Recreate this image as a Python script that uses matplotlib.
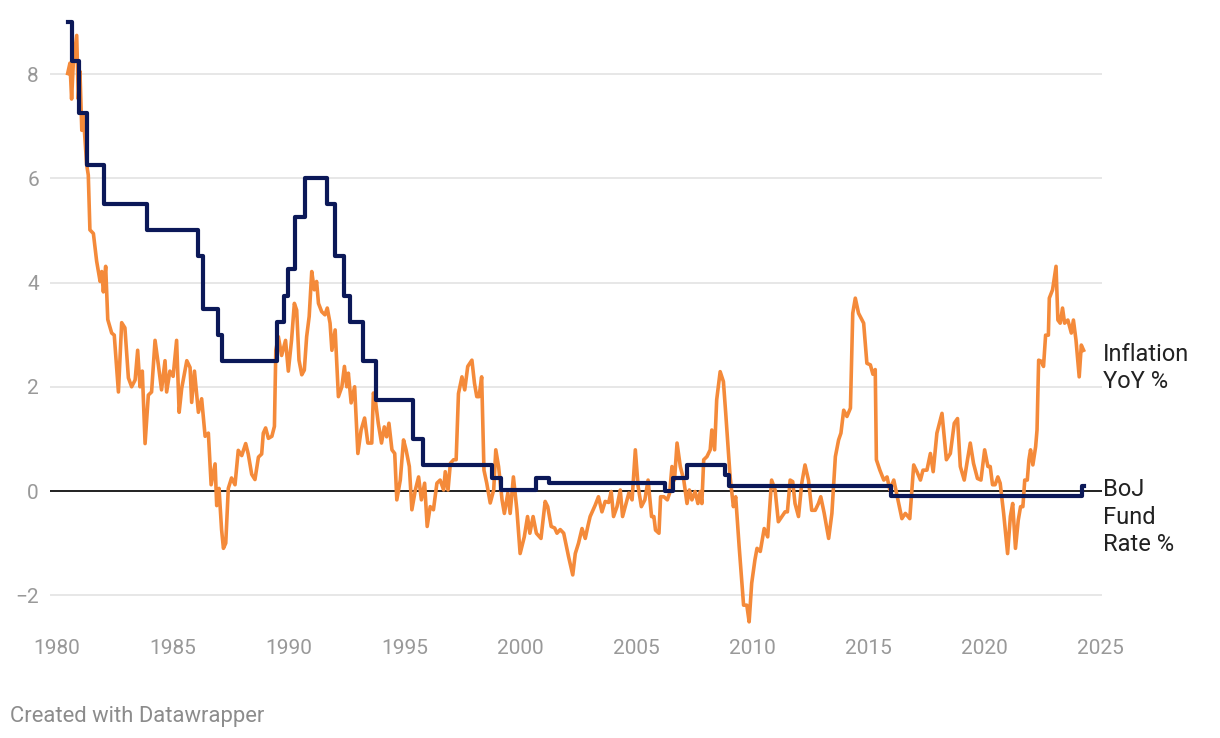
import matplotlib.pyplot as plt

# Japan CPI inflation, year-on-year %
infl_year = [
    1980.46, 1980.56, 1980.63, 1980.70, 1980.85, 1980.92, 1980.99, 1981.07, 1981.14, 1981.28,
    1981.35, 1981.42, 1981.57, 1981.71, 1981.86, 1981.93, 1982.00, 1982.10, 1982.19, 1982.36,
    1982.47, 1982.65, 1982.79, 1982.93, 1983.08, 1983.22, 1983.37, 1983.48, 1983.58, 1983.68,
    1983.80, 1983.94, 1984.08, 1984.23, 1984.37, 1984.51, 1984.66, 1984.73, 1984.87, 1985.01,
    1985.16, 1985.27, 1985.38, 1985.60, 1985.74, 1985.81, 1985.93, 1986.10, 1986.24, 1986.39,
    1986.53, 1986.65, 1986.82, 1986.89, 1986.99, 1987.10, 1987.18, 1987.28, 1987.39, 1987.53,
    1987.68, 1987.82, 1987.97, 1988.14, 1988.25, 1988.40, 1988.54, 1988.69, 1988.83, 1988.90,
    1989.00, 1989.12, 1989.27, 1989.38, 1989.44, 1989.55, 1989.69, 1989.86, 1989.98,
    1990.12, 1990.24, 1990.34, 1990.44, 1990.56, 1990.67, 1990.77, 1990.88, 1990.99, 1991.10,
    1991.20, 1991.28, 1991.42, 1991.56, 1991.66, 1991.78, 1991.86, 1992.00, 1992.14, 1992.29,
    1992.40, 1992.50, 1992.57, 1992.69, 1992.84, 1992.98, 1993.12, 1993.27, 1993.41, 1993.58,
    1993.65, 1993.75, 1993.86, 1994.00, 1994.12, 1994.22, 1994.32, 1994.45, 1994.57, 1994.66,
    1994.81, 1994.95, 1995.06, 1995.20, 1995.31, 1995.46, 1995.60, 1995.72, 1995.86, 1995.97,
    1996.10, 1996.24, 1996.39, 1996.53, 1996.68, 1996.75, 1996.87, 1996.97, 1997.11, 1997.22,
    1997.32, 1997.47, 1997.59, 1997.72, 1997.90, 1998.01, 1998.11, 1998.21, 1998.32, 1998.42,
    1998.54, 1998.69, 1998.84, 1998.93, 1999.05, 1999.20, 1999.30, 1999.45, 1999.55, 1999.69,
    1999.84, 1999.98,
    2000.16, 2000.30, 2000.40, 2000.54, 2000.68, 2000.88, 2001.06, 2001.17, 2001.32, 2001.47,
    2001.57, 2001.71, 2001.86, 2002.07, 2002.25, 2002.36, 2002.50, 2002.65, 2002.79, 2002.90,
    2003.00, 2003.22, 2003.36, 2003.51, 2003.65, 2003.80, 2003.91, 2004.01, 2004.16, 2004.30,
    2004.40, 2004.55, 2004.67, 2004.81, 2004.95, 2005.07, 2005.21, 2005.36, 2005.50, 2005.65,
    2005.75, 2005.82, 2005.97, 2006.04, 2006.18, 2006.33, 2006.43, 2006.53, 2006.64, 2006.75,
    2006.89, 2007.04, 2007.18, 2007.28, 2007.39, 2007.53, 2007.65, 2007.75, 2007.82, 2007.90,
    2008.04, 2008.18, 2008.25, 2008.37, 2008.46, 2008.61, 2008.75, 2008.85, 2009.04, 2009.18,
    2009.28, 2009.43, 2009.62, 2009.76, 2009.86, 2009.97, 2010.11,
    2010.20, 2010.34, 2010.51, 2010.66, 2010.83, 2010.98, 2011.12, 2011.27, 2011.41, 2011.51,
    2011.63, 2011.74, 2011.84, 2011.99, 2012.13, 2012.27, 2012.42, 2012.56, 2012.71, 2012.85,
    2012.95, 2013.10, 2013.29, 2013.43, 2013.58, 2013.72, 2013.82, 2013.94, 2014.08, 2014.23,
    2014.33, 2014.44, 2014.58, 2014.80, 2014.94, 2015.09, 2015.20, 2015.30, 2015.35, 2015.50,
    2015.67, 2015.81, 2015.93, 2016.10, 2016.25, 2016.45, 2016.60, 2016.79, 2016.96, 2017.10,
    2017.25, 2017.36, 2017.53, 2017.68, 2017.80, 2017.96, 2018.18, 2018.37, 2018.54, 2018.71,
    2018.85, 2018.97, 2019.14, 2019.28, 2019.40, 2019.54, 2019.71, 2019.86,
    2020.02, 2020.16, 2020.26, 2020.36, 2020.47, 2020.59, 2020.69, 2020.84, 2021.01, 2021.13,
    2021.23, 2021.35, 2021.47, 2021.57, 2021.67, 2021.75, 2021.86, 2021.93, 2022.00, 2022.10,
    2022.22, 2022.28, 2022.35, 2022.46, 2022.56, 2022.65, 2022.77, 2022.81, 2022.95, 2023.10,
    2023.18, 2023.28, 2023.38, 2023.47, 2023.61, 2023.76, 2023.85, 2023.96, 2024.10, 2024.19,
    2024.29,
]
infl_val = [
    8.01, 8.21, 7.52, 8.18, 8.74, 7.52, 8.05, 6.92, 7.19, 6.26,
    6.06, 5.01, 4.94, 4.41, 4.02, 4.21, 3.82, 4.31, 3.29, 3.03,
    2.99, 1.90, 3.23, 3.13, 2.17, 2.00, 2.13, 2.70, 2.00, 2.30,
    0.91, 1.84, 1.90, 2.89, 2.43, 1.94, 2.50, 1.90, 2.30, 2.20,
    2.89, 1.51, 1.97, 2.50, 2.37, 1.70, 2.30, 1.51, 1.77, 1.05,
    1.11, 0.12, 0.52, -0.28, 0.05, -0.74, -1.10, -1.00, 0.05, 0.25,
    0.12, 0.78, 0.68, 0.91, 0.71, 0.32, 0.22, 0.65, 0.71, 1.11,
    1.21, 1.01, 1.05, 1.24, 2.70, 2.96, 2.60, 2.89, 2.30,
    2.90, 3.60, 3.47, 2.51, 2.23, 2.32, 2.96, 3.35, 4.21, 3.86,
    4.02, 3.60, 3.44, 3.38, 3.51, 3.22, 2.70, 3.09, 1.81, 2.00,
    2.39, 2.00, 2.26, 1.69, 2.00, 0.72, 1.17, 1.40, 0.92, 0.92,
    1.88, 1.69, 1.30, 0.92, 1.23, 1.04, 1.30, 0.79, 0.72, -0.17,
    0.21, 0.98, 0.79, 0.47, -0.36, 0.02, 0.27, -0.17, 0.15, -0.68,
    -0.30, -0.36, 0.15, 0.21, 0.02, 0.37, 0.02, 0.53, 0.60, 0.60,
    1.87, 2.19, 1.94, 2.39, 2.51, 2.07, 1.81, 1.81, 2.19, 0.40,
    0.15, -0.23, 0.02, 0.79, 0.47, -0.17, -0.43, -0.04, -0.43, 0.27,
    -0.36, -1.20,
    -0.88, -0.49, -0.81, -0.49, -0.81, -0.91, -0.20, -0.30, -0.68, -0.71,
    -0.81, -0.74, -0.81, -1.26, -1.61, -1.20, -1.00, -0.72, -0.91, -0.68,
    -0.49, -0.27, -0.11, -0.40, -0.20, -0.22, -0.01, -0.49, -0.30, 0.02,
    -0.49, -0.24, -0.04, -0.17, 0.79, 0.09, -0.30, -0.17, 0.21, -0.49,
    -0.49, -0.75, -0.81, -0.11, -0.11, -0.17, -0.04, 0.47, 0.21, 0.92,
    0.47, 0.21, -0.24, 0.02, -0.17, -0.01, -0.24, -0.01, -0.24, 0.60,
    0.66, 0.79, 1.17, 0.79, 1.75, 2.29, 2.10, 1.49, 0.27, -0.30,
    -0.11, -1.07, -2.19, -2.19, -2.51, -1.77, -1.32,
    -1.10, -1.16, -0.72, -0.88, 0.21, 0.02, -0.59, -0.49, -0.40, -0.40,
    0.21, 0.18, -0.24, -0.49, 0.15, 0.50, 0.21, -0.37, -0.37, -0.24,
    -0.11, -0.43, -0.91, -0.43, 0.66, 0.98, 1.11, 1.55, 1.43, 1.59,
    3.41, 3.70, 3.41, 3.22, 2.45, 2.42, 2.24, 2.33, 0.60, 0.40,
    0.21, 0.27, 0.02, 0.21, -0.11, -0.53, -0.43, -0.53, 0.50, 0.37,
    0.21, 0.40, 0.40, 0.72, 0.37, 1.11, 1.49, 0.60, 0.72, 1.30,
    1.39, 0.47, 0.21, 0.60, 0.92, 0.53, 0.24, 0.21,
    0.79, 0.47, 0.47, 0.12, 0.12, 0.27, 0.15, -0.43, -1.20, -0.49,
    -0.24, -1.10, -0.56, -0.30, -0.30, 0.21, 0.21, 0.60, 0.79, 0.50,
    0.85, 1.17, 2.51, 2.49, 2.39, 2.99, 2.99, 3.70, 3.86, 4.31,
    3.28, 3.22, 3.51, 3.22, 3.28, 3.03, 3.28, 2.90, 2.19, 2.80,
    2.70,
]

# BoJ policy rate: year each level starts, and the level
rate_year = [1980.46, 1980.66, 1980.97, 1981.30, 1982.04, 1983.87, 1986.10, 1986.30, 1986.93,
             1987.10, 1989.48, 1989.81, 1989.96, 1990.27, 1990.72, 1991.63, 1992.00, 1992.40,
             1992.62, 1993.22, 1993.77, 1995.36, 1995.77, 1998.77, 1999.16, 2000.67, 2001.22,
             2006.21, 2006.56, 2007.16, 2008.82, 2009.00, 2016.00, 2024.22, 2024.29]
rate_val = [9.0, 8.25, 7.25, 6.25, 5.5, 5.0, 4.5, 3.5, 3.0,
            2.5, 3.25, 3.75, 4.25, 5.25, 6.0, 5.5, 4.5, 3.75,
            3.25, 2.5, 1.75, 1.0, 0.5, 0.25, 0.02, 0.25, 0.15,
            0.0, 0.25, 0.5, 0.3, 0.1, -0.1, 0.1, 0.1]

plt.rcParams['font.family'] = ['Roboto', 'DejaVu Sans']

fig = plt.figure(figsize=(12.2, 7.38), dpi=100)
ax = fig.add_axes([0.04102, 0.14398, 0.86258, 0.84050])
ax.set_xlim(1979.7, 2025.1)
ax.set_ylim(-2.7, 9.2)

for s in ax.spines.values():
    s.set_visible(False)

ax.set_yticks([-2, 0, 2, 4, 6, 8])
ax.set_xticks(range(1980, 2026, 5))
ax.tick_params(length=0, labelsize=15, labelcolor='#999999')
ax.tick_params(axis='x', pad=5.5)
ax.tick_params(axis='y', pad=8)
ax.yaxis.grid(True, color='#e3e3e3', lw=1.2)
ax.set_axisbelow(True)
ax.axhline(0, color='black', lw=1.2, zorder=1)

ax.plot(infl_year, infl_val, color='#f48a3a', lw=2.6, solid_joinstyle='round', zorder=2)
ax.step(rate_year, rate_val, where='post', color='#0b1858', lw=3.0, zorder=3)

# va='baseline' on multi-line text lines up the last line
ax.text(2025.12, 1.97, 'Inflation\nYoY %', fontsize=17, color='#222222',
        va='baseline', ha='left', linespacing=1.25)
ax.text(2025.12, -1.16, 'BoJ\nFund\nRate %', fontsize=17, color='#222222',
        va='baseline', ha='left', linespacing=1.25)

fig.text(10 / 1220, 1 - 722 / 738, 'Created with Datawrapper', fontsize=15.8,
         color='#8c8c8c', va='baseline', ha='left')

plt.savefig('out.png', dpi=100)
